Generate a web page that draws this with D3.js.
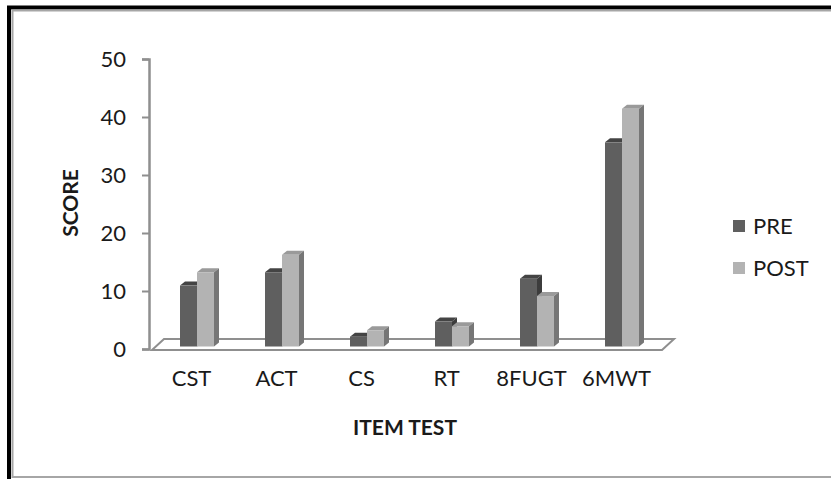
<!DOCTYPE html>
<html>
<head>
<meta charset="utf-8">
<script src="https://cdn.jsdelivr.net/npm/d3@7"></script>
<style>
  body { margin: 0; background: #fff; }
  text { font-family: Lato, "Open Sans", sans-serif; fill: #1a1a1a; }
</style>
</head>
<body>
<script>
var width = 831,
    height = 479;

var categories = ["CST", "ACT", "CS", "RT", "8FUGT", "6MWT"];
var series = ["PRE", "POST"];
var pre = [10.5, 12.8, 1.7, 4.3, 11.7, 35.2];
var post = [12.8, 15.8, 2.8, 3.5, 8.7, 41.0];
var yTicks = [0, 10, 20, 30, 40, 50];

var frontColor = {PRE: "#5f5f5f", POST: "#b3b3b3"};
var topColor = {PRE: "#444", POST: "#9a9a9a"};
var sideColor = {PRE: "#3c3c3c", POST: "#767676"};

var rows = categories.map(function(c, i) {
  return {cat: c, values: [{s: "PRE", v: pre[i]}, {s: "POST", v: post[i]}]};
});

var svg = d3.select("body").append("svg")
    .attr("width", width)
    .attr("height", height);

// frame: black outer, grey inner
svg.append("rect")
    .attr("x", 9).attr("y", 7.5)
    .attr("width", 900).attr("height", 600)
    .attr("fill", "none").attr("stroke", "#000").attr("stroke-width", 4);
svg.append("rect")
    .attr("x", 12.5).attr("y", 10.5)
    .attr("width", 900).attr("height", 466.5)
    .attr("fill", "none").attr("stroke", "#a6a6a6").attr("stroke-width", 2);

var x = d3.scaleBand().domain(categories).range([152, 662]);
var xi = d3.scaleBand().domain(series).range([-17, 17]);
var y = d3.scaleLinear().domain([0, 50]).range([349, 59]);

// floor depth and bar depth offsets
var fdx = 12, fdy = -11;
var bshift = 2.5;       // bars stand a little behind the front edge
var bdx = 5, bdy = -4;  // bar depth

// floor
var fl = x.range()[0], fr = x.range()[1], fy = y(0) + 1;
svg.append("path")
    .attr("d", "M" + fl + "," + fy + "L" + fr + "," + fy + "L" + (fr + fdx) + "," + (fy + fdy) +
               "L" + (fl + fdx) + "," + (fy + fdy) + "Z")
    .attr("fill", "#fff").attr("stroke", "#8f8f8f").attr("stroke-width", 2);

// y axis
var yAxis = d3.axisLeft(y).tickValues(yTicks).tickSize(7).tickPadding(16);
var ya = svg.append("g").attr("transform", "translate(149,0)").call(yAxis);
ya.select(".domain").attr("stroke", "#8f8f8f").attr("stroke-width", 2.5);
ya.selectAll(".tick line").attr("stroke", "#8f8f8f").attr("stroke-width", 2);
ya.selectAll("text").attr("font-size", 22).attr("font-family", "Lato").attr("fill", "#1a1a1a");

// bars
var groups = svg.selectAll("g.grp").data(rows).enter().append("g")
    .attr("class", "grp")
    .attr("transform", function(d) {
      return "translate(" + (x(d.cat) + x.bandwidth() / 2 + bshift) + "," + (-bshift) + ")";
    });

var bars = groups.selectAll("g.bar").data(function(d) { return d.values; }).enter()
    .append("g").attr("class", "bar");

bars.append("path")
    .attr("d", function(d) {
      var x0 = xi(d.s), x1 = x0 + xi.bandwidth(), t = y(d.v);
      return "M" + x0 + "," + t + "L" + (x0 + bdx) + "," + (t + bdy) + "L" + (x1 + bdx) + "," + (t + bdy) +
             "L" + x1 + "," + t + "Z";
    })
    .attr("fill", function(d) { return topColor[d.s]; });

bars.append("path")
    .attr("d", function(d) {
      var x1 = xi(d.s) + xi.bandwidth(), t = y(d.v), b = y(0);
      return "M" + x1 + "," + t + "L" + (x1 + bdx) + "," + (t + bdy) + "L" + (x1 + bdx) + "," + (b + bdy) +
             "L" + x1 + "," + b + "Z";
    })
    .attr("fill", function(d) { return sideColor[d.s]; });

bars.append("rect")
    .attr("x", function(d) { return xi(d.s); })
    .attr("y", function(d) { return y(d.v); })
    .attr("width", xi.bandwidth())
    .attr("height", function(d) { return y(0) - y(d.v); })
    .attr("fill", function(d) { return frontColor[d.s]; });

// category labels
var xAxis = d3.axisBottom(x).tickSize(0).tickPadding(0);
var xa = svg.append("g").attr("transform", "translate(-3,370)").call(xAxis);
xa.select(".domain").remove();
xa.selectAll("text").attr("font-size", 22).attr("font-family", "Lato").attr("fill", "#1a1a1a");

// axis titles
svg.append("text")
    .attr("x", 405).attr("y", 435)
    .attr("text-anchor", "middle")
    .attr("font-size", 21).attr("font-weight", "bold")
    .text("ITEM TEST");

svg.append("text")
    .attr("transform", "translate(78,203) rotate(-90)")
    .attr("text-anchor", "middle")
    .attr("font-size", 21).attr("font-weight", "bold")
    .text("SCORE");

// legend
var legend = svg.selectAll("g.leg").data(series).enter().append("g")
    .attr("class", "leg")
    .attr("transform", function(d, i) { return "translate(733," + (220 + i * 42) + ")"; });
legend.append("rect")
    .attr("width", 12).attr("height", 12)
    .attr("fill", function(d) { return frontColor[d]; });
legend.append("text")
    .attr("x", 20).attr("y", 14)
    .attr("font-size", 22)
    .text(function(d) { return d; });
</script>
</body>
</html>
